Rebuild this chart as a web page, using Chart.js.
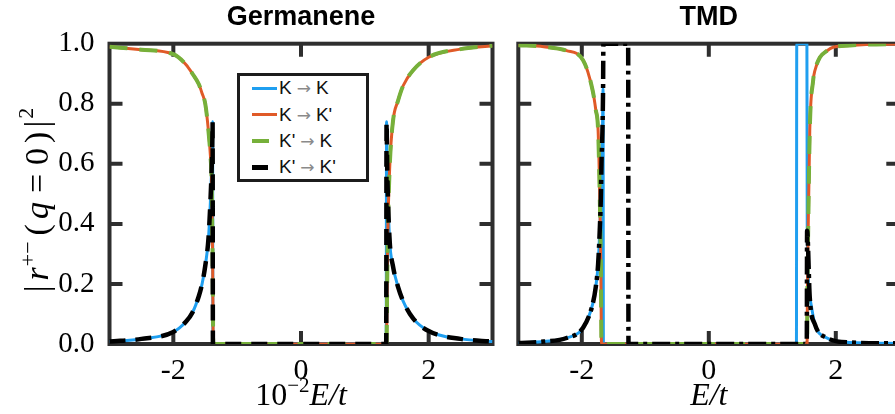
<!DOCTYPE html>
<html>
<head>
<meta charset="utf-8">
<script src="https://cdn.jsdelivr.net/npm/chart.js@4.4.1/dist/chart.umd.min.js"></script>
<style>
  html, body { margin: 0; padding: 0; background: #fff; }
  #wrap { position: relative; width: 895px; height: 414px; overflow: hidden; }
  #germCanvas { position: absolute; left: 0; top: 0; }
  #tmdCanvas { position: absolute; left: 500px; top: 0; }
  #legend {
    position: absolute; left: 237px; top: 73px; width: 132px; height: 109px;
    box-sizing: border-box; border: 3px solid #1c1c1c; background: #fff;
    font-family: 'Liberation Sans', Arial, sans-serif; font-size: 19px; color: #111;
  }
  #legend .row { position: absolute; left: 0; height: 20px; line-height: 20px; white-space: nowrap; }
  #legend .sample { position: absolute; }
  #legend .txt { position: absolute; left: 39px; top: 0; }
  #legend .arrow { color: #8a8a8a; font-family: 'DejaVu Sans', sans-serif; font-size: 17px; margin: 0 5px; }
</style>
</head>
<body>
<div id="wrap">
  <canvas id="germCanvas" width="505" height="414"></canvas>
  <canvas id="tmdCanvas" width="420" height="414"></canvas>
  <div id="legend"></div>
</div>
<script>
// Seri isimleri ve renkleri
const seriesLabels = ['K → K', "K → K'", "K' → K", "K' → K'"];
const seriesColors = ['#1f9ff0', '#e05a28', '#76b03a', '#000000'];

// Eksen işaretleri
const xTickValues = [-2, 0, 2];
const yTickValues = [0, 0.2, 0.4, 0.6, 0.8, 1.0];

// Germanene paneli (10^-2 E/t)
const germEnergy = [-3.0, -2.5, -2.0, -1.8, -1.7, -1.6, -1.55, -1.5, -1.45, -1.42, -1.40, -1.39, -1.385, -1.38, -1.375,
                    1.335, 1.34, 1.35, 1.36, 1.39, 1.44, 1.52, 1.6, 1.75, 2.0, 2.5, 3.0];
const germSameValley = [0.008, 0.017, 0.04, 0.075, 0.105, 0.16, 0.2, 0.26, 0.35, 0.47, 0.58, 0.66, 0.74, 0, 0,
                        0, 0.74, 0.6, 0.5, 0.34, 0.26, 0.19, 0.143, 0.087, 0.043, 0.017, 0.008];
const germCrossValley = [0.99, 0.98, 0.965, 0.93, 0.90, 0.865, 0.835, 0.80, 0.71, 0.63, 0.54, 0.38, 0.30, 0.15, 0,
                         0, 0, 0.2, 0.37, 0.59, 0.74, 0.81, 0.86, 0.91, 0.955, 0.982, 0.993];

// TMD paneli (E/t)
const tmdEnergyCross = [-3.0, -2.6, -2.24, -1.98, -1.83, -1.78, -1.743, -1.717, -1.70, -1.69,
                        1.548, 1.552, 1.565, 1.59, 1.643, 1.67, 1.748, 1.853, 1.957, 2.22, 2.48, 3.0];
const tmdCross = [0.995, 0.99, 0.977, 0.945, 0.845, 0.78, 0.71, 0.488, 0.266, 0,
                  0, 0.15, 0.377, 0.71, 0.877, 0.91, 0.954, 0.975, 0.988, 0.994, 0.997, 0.999];
const tmdEnergyKK = [-3.0, -2.6, -2.24, -1.98, -1.83, -1.78, -1.743, -1.717, -1.70, -1.69, -1.675, -1.665, -1.66,
                     1.38, 1.385, 1.545, 1.55, 1.59, 1.67, 1.853, 2.22, 3.0];
const tmdKK = [0.003, 0.008, 0.02, 0.054, 0.132, 0.19, 0.266, 0.38, 0.488, 0.6, 0.71, 0.849, 0,
               0, 1.0, 1.0, 0.377, 0.154, 0.066, 0.021, 0.005, 0.002];
const tmdEnergyKpKp = [-3.0, -2.6, -2.24, -1.98, -1.83, -1.78, -1.743, -1.717, -1.70, -1.69, -1.675, -1.665, -1.66,
                       -1.27, -1.265, 1.543, 1.548, 1.59, 1.67, 1.853, 2.22, 3.0];
const tmdKpKp = [0.003, 0.008, 0.02, 0.054, 0.132, 0.19, 0.266, 0.38, 0.488, 0.6, 0.71, 0.849, 1.0,
                 1.0, 0, 0, 0.377, 0.154, 0.066, 0.021, 0.005, 0.002];

const frameColor = '#2e2e2e';
const serif = "'Liberation Serif', 'Times New Roman', serif";

const toPoints = (xs, ys) => xs.map((x, i) => ({ x: x, y: ys[i] }));

const makeDataset = (i, xs, ys, width, dash, order) => ({
    label: seriesLabels[i],
    data: toPoints(xs, ys),
    borderColor: seriesColors[i],
    borderWidth: width,
    borderDash: dash,
    pointRadius: 0,
    fill: false,
    cubicInterpolationMode: 'monotone',
    order: order
});

// Çerçeve ve içe dönük tikler
const framePlugin = {
    id: 'frame',
    beforeDatasetsDraw(chart) {
        const { ctx, chartArea: a, scales } = chart;
        const x = scales.x, y = scales.y;
        const tl = 13;
        ctx.save();
        ctx.strokeStyle = frameColor;
        ctx.lineWidth = 4;
        ctx.strokeRect(a.left, a.top, a.right - a.left, a.bottom - a.top);
        ctx.beginPath();
        x.ticks.forEach(t => {
            if (t.value <= x.min || t.value >= x.max) return;
            const px = x.getPixelForValue(t.value);
            ctx.moveTo(px, a.top); ctx.lineTo(px, a.top + tl);
            ctx.moveTo(px, a.bottom); ctx.lineTo(px, a.bottom - tl);
        });
        y.ticks.forEach(t => {
            if (t.value <= y.min || t.value >= y.max) return;
            const py = y.getPixelForValue(t.value);
            ctx.moveTo(a.left, py); ctx.lineTo(a.left + tl, py);
            ctx.moveTo(a.right, py); ctx.lineTo(a.right - tl, py);
        });
        ctx.stroke();
        ctx.restore();
    }
};

// Karışık stilli metin: [metin, font, yükselme, sonraki boşluk]
function drawRuns(ctx, runs, cx, cy) {
    let total = 0;
    runs.forEach(r => { ctx.font = r[1]; total += ctx.measureText(r[0]).width + (r[3] || 0); });
    let x = cx - total / 2;
    runs.forEach(r => {
        ctx.font = r[1];
        ctx.fillText(r[0], x, cy - (r[2] || 0));
        x += ctx.measureText(r[0]).width + (r[3] || 0);
    });
}

const textPlugin = {
    id: 'panelText',
    afterDraw(chart, args, opts) {
        const { ctx } = chart;
        const cx = chart.scales.x.getPixelForValue(0);
        ctx.save();
        ctx.fillStyle = '#000';
        ctx.textBaseline = 'alphabetic';
        ctx.textAlign = 'left';
        drawRuns(ctx, [[opts.title, "bold 27px 'Liberation Sans', Arial, sans-serif"]], cx, 25);
        drawRuns(ctx, opts.xLabel, cx, 405);
        if (opts.yLabel) {
            ctx.translate(opts.yLabelX, opts.yLabelY);
            ctx.rotate(-Math.PI / 2);
            drawRuns(ctx, opts.yLabel, 0, 0);
        }
        ctx.restore();
    }
};

function makeChart(canvasId, datasets, panel) {
    const ctx = document.getElementById(canvasId).getContext('2d');
    return new Chart(ctx, {
        type: 'line',
        data: { datasets: datasets },
        options: {
            responsive: false,
            animation: false,
            events: [],
            layout: { padding: { top: 43.7, right: panel.padRight, bottom: 0, left: 0 } },
            plugins: {
                legend: { display: false },
                tooltip: { enabled: false },
                panelText: panel.text
            },
            scales: {
                x: {
                    type: 'linear',
                    min: -3, max: 3,
                    grid: { display: false },
                    border: { display: false },
                    afterBuildTicks: s => { s.ticks = xTickValues.map(v => ({ value: v })); },
                    afterFit: s => { s.height = 70; },
                    ticks: {
                        padding: 1,
                        color: '#000',
                        font: { family: serif, size: 30 },
                        callback: v => String(v)
                    }
                },
                y: {
                    type: 'linear',
                    min: 0, max: 1,
                    grid: { display: false },
                    border: { display: false },
                    afterBuildTicks: s => { s.ticks = yTickValues.map(v => ({ value: v })); },
                    afterFit: s => { s.width = panel.yWidth; },
                    ticks: {
                        display: panel.showY,
                        padding: 7,
                        color: '#000',
                        font: { family: serif, size: 29 },
                        callback: v => v.toFixed(1)
                    }
                }
            }
        },
        plugins: [framePlugin, textPlugin]
    });
}

const germDatasets = [
    makeDataset(0, germEnergy, germSameValley, 3, [], 3),
    makeDataset(1, germEnergy, germCrossValley, 3, [], 2),
    makeDataset(2, germEnergy, germCrossValley, 4, [18, 12], 1),
    makeDataset(3, germEnergy, germSameValley, 4.5, [16, 10], 0)
];

const tmdDatasets = [
    makeDataset(0, tmdEnergyKK, tmdKK, 3, [], 3),
    makeDataset(1, tmdEnergyCross, tmdCross, 3, [], 2),
    makeDataset(2, tmdEnergyCross, tmdCross, 4, [18, 12], 1),
    makeDataset(3, tmdEnergyKpKp, tmdKpKp, 4.5, [18, 5, 4, 5], 0)
];

const big = '34px ' + serif, bigIt = 'italic 34px ' + serif, sup = '22px ' + serif;

makeChart('germCanvas', germDatasets, {
    padRight: 12.5, yWidth: 109.5, showY: true,
    text: {
        title: 'Germanene',
        xLabel: [['10', '32px ' + serif], ['\u22122', '21px ' + serif, 13], ['E/t', 'italic 32px ' + serif]],
        yLabelX: 48,
        yLabelY: 200,
        yLabel: [
            ['|', big, 0, 5], ['r', bigIt, 0, 1], ['+\u2212', sup, 13, 6],
            ['(', big, 0, 5], ['q', bigIt, 0, 9], ['=', big, 0, 9], ['0', big, 0, 5],
            [')', big, 0, 4], ['|', big, 0, 2], ['2', sup, 15]
        ]
    }
});

makeChart('tmdCanvas', tmdDatasets, {
    padRight: 20.7, yWidth: 18.3, showY: false,
    text: {
        title: 'TMD',
        xLabel: [['E/t', 'italic 32px ' + serif]]
    }
});

// HTML lejant
const legendSamples = [
    { w: 25, h: 3 }, { w: 25, h: 3 }, { w: 17, h: 4 }, { w: 16, h: 5 }
];
const legendRowTops = [2, 28.5, 55, 81];
const legendDiv = document.getElementById('legend');
seriesLabels.forEach((label, i) => {
    const row = document.createElement('div');
    row.className = 'row';
    row.style.top = legendRowTops[i] + 'px';
    row.style.width = '124px';
    const sample = document.createElement('div');
    sample.className = 'sample';
    sample.style.left = '12px';
    sample.style.width = legendSamples[i].w + 'px';
    sample.style.height = legendSamples[i].h + 'px';
    sample.style.top = (10 - legendSamples[i].h / 2) + 'px';
    sample.style.background = seriesColors[i];
    const txt = document.createElement('span');
    txt.className = 'txt';
    const parts = label.split(' → ');
    txt.appendChild(document.createTextNode(parts[0]));
    const arrow = document.createElement('span');
    arrow.className = 'arrow';
    arrow.textContent = '→';
    txt.appendChild(arrow);
    txt.appendChild(document.createTextNode(parts[1]));
    row.appendChild(sample);
    row.appendChild(txt);
    legendDiv.appendChild(row);
});
</script>
</body>
</html>
